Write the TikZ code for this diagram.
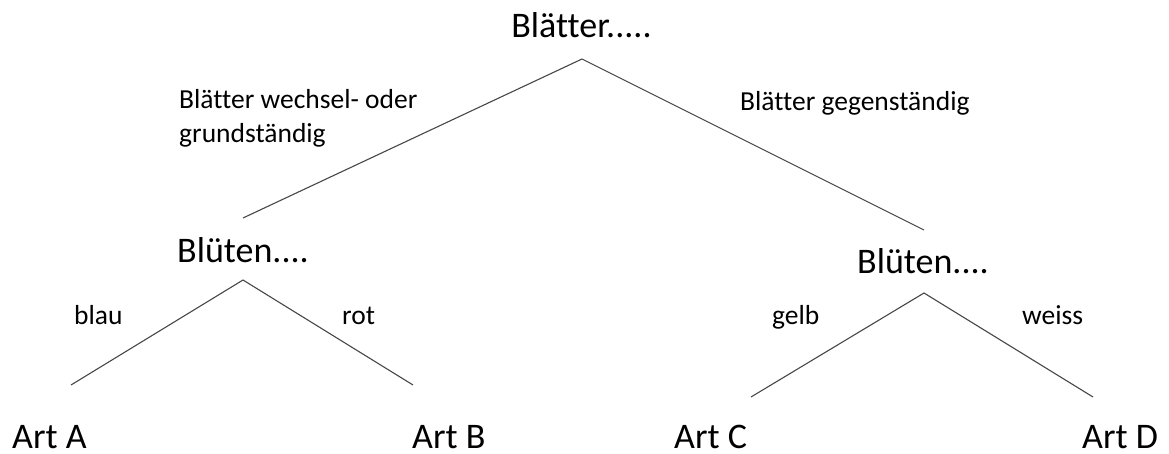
\documentclass[tikz,border=0pt]{standalone}
\usepackage{fontspec}
\setmainfont{Carlito}[Ligatures=NoCommon]
\begin{document}
\begin{tikzpicture}[x=1pt,y=-1pt,
  big/.style={font=\fontsize{36}{40}\selectfont, inner sep=0pt, anchor=base west},
  small/.style={font=\fontsize{27.5}{33}\selectfont, inner sep=0pt, anchor=base west},
  branch/.style={draw=black!72, line width=1.1pt}]
\useasboundingbox (0,0) rectangle (1169,454);
% texts
\node[big, anchor=base] (root) at (581.5,38) {Blätter.....};
\node[small] (l1a) at (179,109) {Blätter wechsel- oder};
\node[small] (l1b) at (179,143) {grundständig};
\node[small] (r1) at (740,111) {Blätter gegenständig};
\node[big] (bl) at (177,262) {Blüten....};
\node[big] (br) at (857,273) {Blüten....};
\node[small] (la) at (74,324) {blau};
\node[small] (lb) at (342,324) {rot};
\node[small] (lc) at (772,324) {gelb};
\node[small] (ld) at (1022,324) {weiss};
\node[big, text depth=0pt] (aa) at (12,448) {Art A};
\node[big, text depth=0pt] (ab) at (412,448) {Art B};
\node[big, text depth=0pt] (ac) at (674,448) {Art C};
\node[big, text depth=0pt] (ad) at (1082,448) {Art D};
% branch points
\coordinate (t0) at (582,59);
\coordinate (t1) at (243,218);
\coordinate (t2) at (924,230);
\coordinate (u0) at (243,280);
\coordinate (u1) at (71,385);
\coordinate (u2) at (413,385);
\coordinate (v0) at (924,293);
\coordinate (v1) at (751,397);
\coordinate (v2) at (1093,397);
\draw[branch] (t1) -- (t0) -- (t2);
\draw[branch] (u1) -- (u0) -- (u2);
\draw[branch] (v1) -- (v0) -- (v2);
\end{tikzpicture}
\end{document}
